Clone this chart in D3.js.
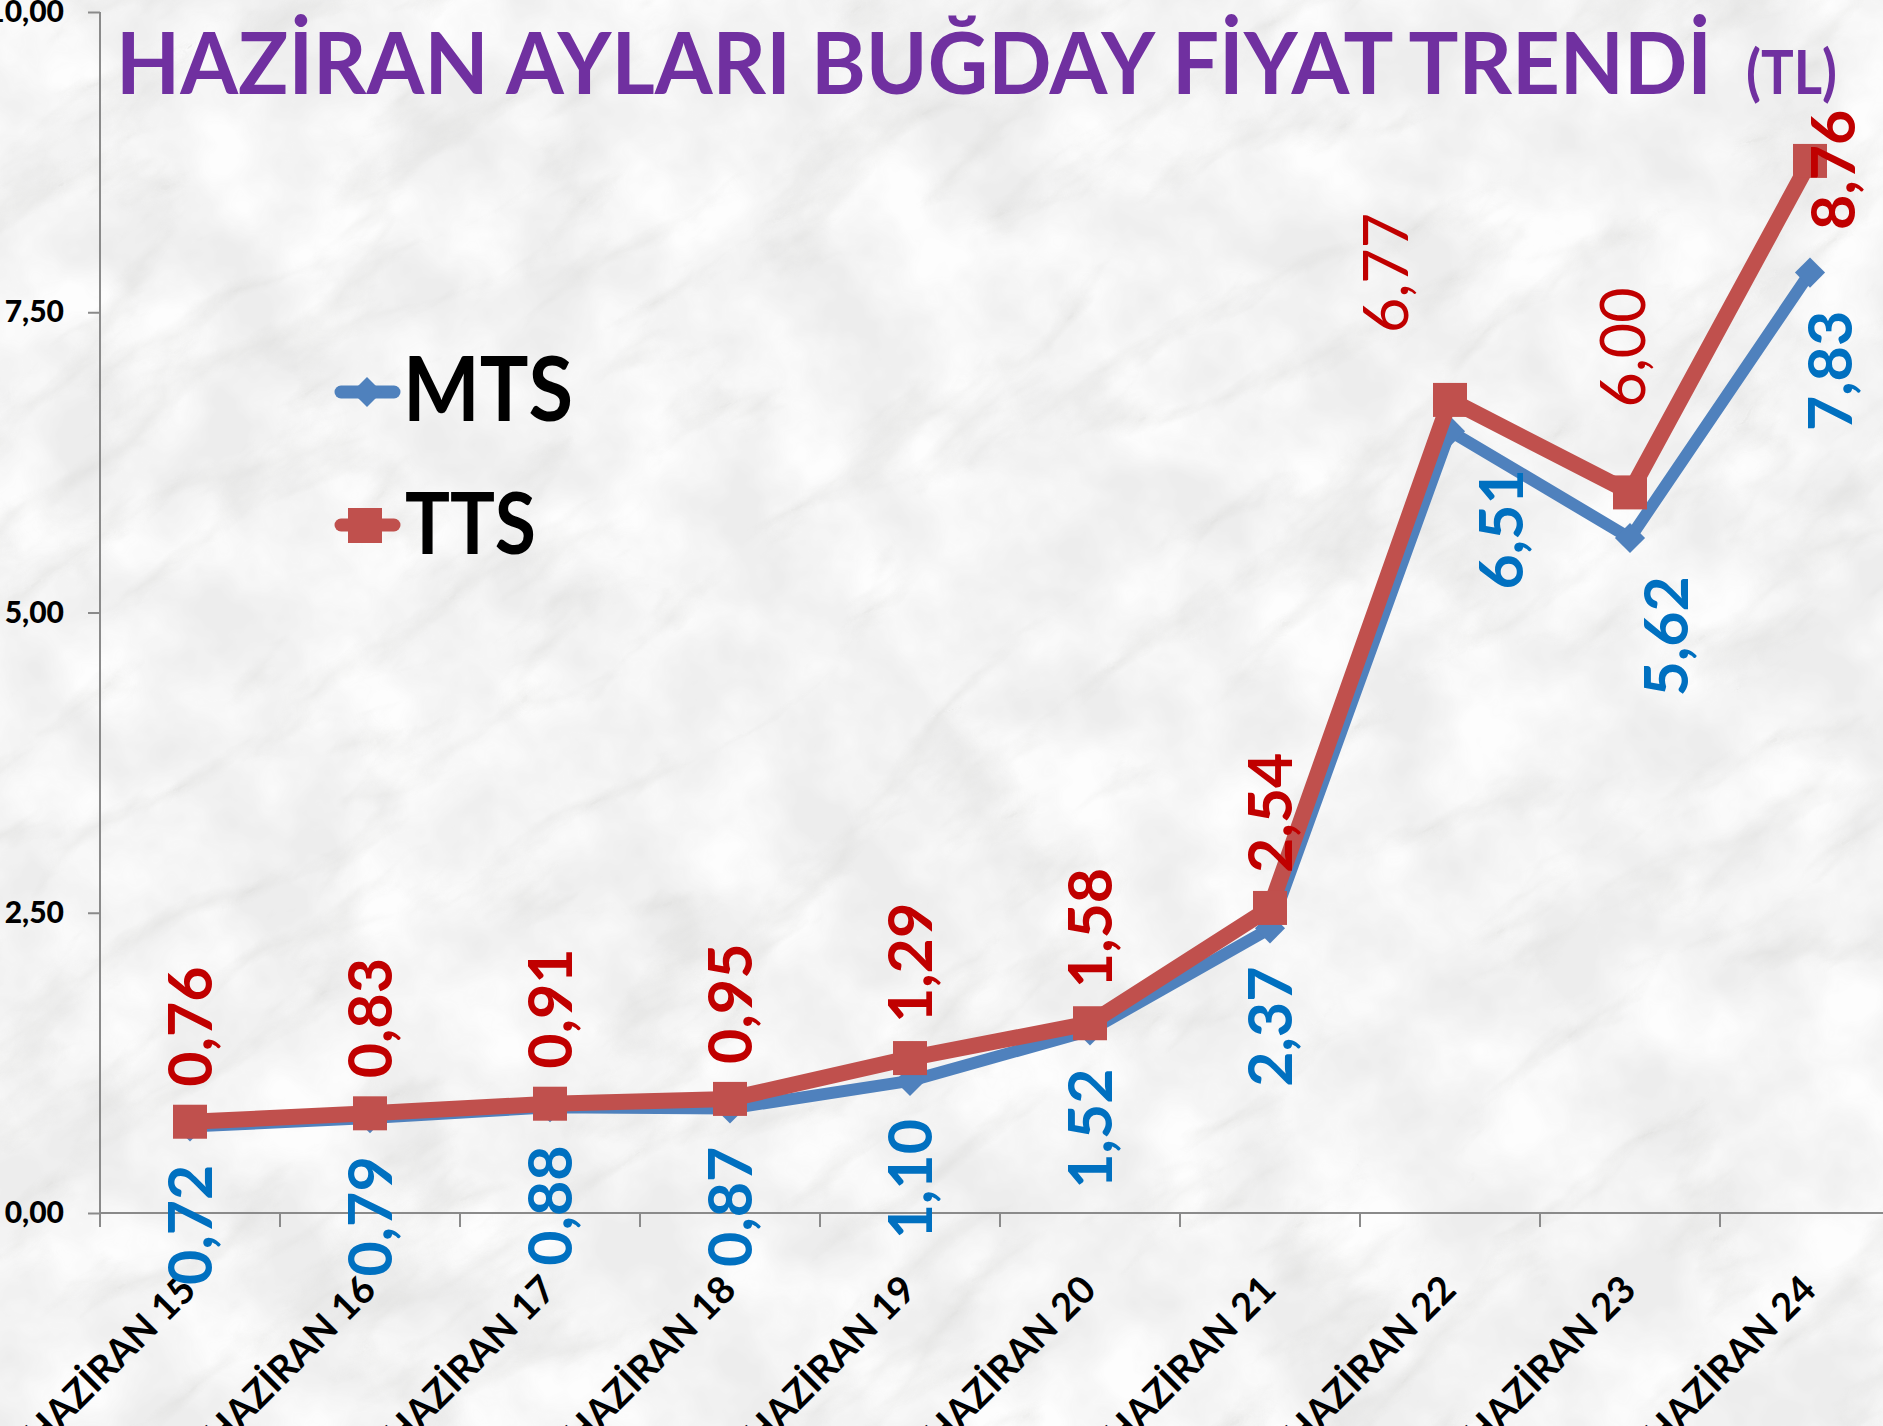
<!DOCTYPE html>
<html>
<head>
<meta charset="utf-8">
<script src="https://cdn.jsdelivr.net/npm/d3@7"></script>
<style>
  body { margin: 0; background: #f0f0f0; }
  svg { display: block; font-family: Lato, "Open Sans", sans-serif; }
</style>
</head>
<body>
<div id="chart"></div>
<script>
// chart data
const categories = ["HAZİRAN 15", "HAZİRAN 16", "HAZİRAN 17", "HAZİRAN 18", "HAZİRAN 19",
  "HAZİRAN 20", "HAZİRAN 21", "HAZİRAN 22", "HAZİRAN 23", "HAZİRAN 24"];
const mts = [0.72, 0.79, 0.88, 0.87, 1.10, 1.52, 2.37, 6.51, 5.62, 7.83];
const tts = [0.76, 0.83, 0.91, 0.95, 1.29, 1.58, 2.54, 6.77, 6.00, 8.76];
const yTicks = [0, 2.5, 5, 7.5, 10];
const seriesNames = ["MTS", "TTS"];
const titleText = "HAZİRAN AYLARI BUĞDAY FİYAT TRENDİ";
const titleUnit = "(TL)";

// manual label moves (pixels), like the hand-dragged labels in the original
const labelNudge = {
  TTS: { 7: { dx: -64, gap: 67, weight: 400 }, 8: { dx: -7, gap: 85, weight: 400 }, 9: { dx: 23, gap: -69 } },
  MTS: { 7: { dx: 51 }, 8: { dx: 36 }, 9: { dx: 20 } }
};

const W = 1883, H = 1426;
const fmt = d => d.toFixed(2).replace(".", ",");

const svg = d3.select("#chart").append("svg")
  .attr("width", W)
  .attr("height", H);

// marble-ish background
const defs = svg.append("defs");
const veins = defs.append("filter").attr("id", "veins")
  .attr("x", 0).attr("y", 0).attr("width", "100%").attr("height", "100%");
veins.append("feTurbulence")
  .attr("type", "turbulence")
  .attr("baseFrequency", "0.003 0.008")
  .attr("numOctaves", 5)
  .attr("seed", 7);
veins.append("feColorMatrix")
  .attr("type", "matrix")
  .attr("values", "0 0 0 0 0.6  0 0 0 0 0.6  0 0 0 0 0.58  -2.6 0 0 0 0.6");

const mottle = defs.append("filter").attr("id", "mottle")
  .attr("x", 0).attr("y", 0).attr("width", "100%").attr("height", "100%");
mottle.append("feTurbulence")
  .attr("type", "fractalNoise")
  .attr("baseFrequency", "0.01")
  .attr("numOctaves", 4)
  .attr("seed", 3);
mottle.append("feColorMatrix")
  .attr("type", "matrix")
  .attr("values", "0 0 0 0 1  0 0 0 0 1  0 0 0 0 1  2 0 0 0 -0.55");

svg.append("rect").attr("width", W).attr("height", H).attr("fill", "#ededed");
svg.append("g").attr("transform", `translate(${W / 2},${H / 2}) rotate(-35)`)
  .append("rect")
  .attr("x", -1400).attr("y", -1400).attr("width", 2800).attr("height", 2800)
  .attr("filter", "url(#mottle)").attr("opacity", 0.9);
svg.append("g").attr("transform", `translate(${W / 2},${H / 2}) rotate(-35)`)
  .append("rect")
  .attr("x", -1400).attr("y", -1400).attr("width", 2800).attr("height", 2800)
  .attr("filter", "url(#veins)").attr("opacity", 0.45);

// scales
const x = d3.scaleBand().domain(categories).range([100, 1900]).padding(0);
const y = d3.scaleLinear().domain([0, 10]).range([1213, 12]);
const cx = d => x(d) + x.bandwidth() / 2;

// y axis
const yAxis = svg.append("g")
  .attr("transform", "translate(100,0)")
  .call(d3.axisLeft(y).tickValues(yTicks).tickFormat(fmt).tickSize(12).tickPadding(24).tickSizeOuter(0));
yAxis.select(".domain").attr("stroke", "#8a8a8a").attr("stroke-width", 2)
  .attr("d", `M0,${y(10)}V${y(0) + 14}`);
yAxis.selectAll(".tick line").attr("stroke", "#8a8a8a").attr("stroke-width", 2);
yAxis.selectAll(".tick text")
  .attr("fill", "#000")
  .style("font-size", "30px")
  .style("font-weight", 900)
  .style("font-family", "Lato, sans-serif");

// x axis: line + boundary ticks
const xAxis = svg.append("g");
xAxis.append("line")
  .attr("x1", 100).attr("x2", 1900)
  .attr("y1", y(0)).attr("y2", y(0))
  .attr("stroke", "#8a8a8a").attr("stroke-width", 2);
xAxis.selectAll("line.tk")
  .data(categories.slice(1))
  .join("line")
  .attr("class", "tk")
  .attr("x1", d => x(d)).attr("x2", d => x(d))
  .attr("y1", y(0)).attr("y2", y(0) + 14)
  .attr("stroke", "#8a8a8a").attr("stroke-width", 2);
xAxis.selectAll("text")
  .data(categories)
  .join("text")
  .attr("transform", d => `translate(${cx(d) + 8},${y(0) + 79}) rotate(-45)`)
  .attr("text-anchor", "end")
  .attr("fill", "#000")
  .style("font-size", "38px")
  .style("font-weight", 700)
  .text(d => d);

// lines
const line = d3.line()
  .x((d, i) => cx(categories[i]))
  .y(d => y(d));

const plot = svg.append("g");

plot.append("path")
  .datum(mts)
  .attr("d", line)
  .attr("fill", "none")
  .attr("stroke", "#4F81BD")
  .attr("stroke-width", 12)
  .attr("stroke-linejoin", "round");
plot.selectAll("path.dia")
  .data(mts)
  .join("path")
  .attr("class", "dia")
  .attr("d", d3.symbol().type(d3.symbolDiamond2).size(578))
  .attr("transform", (d, i) => `translate(${cx(categories[i])},${y(d)})`)
  .attr("fill", "#4F81BD");

plot.append("path")
  .datum(tts)
  .attr("d", line)
  .attr("fill", "none")
  .attr("stroke", "#C0504D")
  .attr("stroke-width", 16)
  .attr("stroke-linejoin", "round");
plot.selectAll("rect.sq")
  .data(tts)
  .join("rect")
  .attr("class", "sq")
  .attr("x", (d, i) => cx(categories[i]) - 17)
  .attr("y", d => y(d) - 17)
  .attr("width", 34)
  .attr("height", 34)
  .attr("fill", "#C0504D");

// data labels (rotated, reading upward)
function labels(values, name, color, above) {
  const nudges = labelNudge[name];
  svg.append("g").selectAll("text")
    .data(values)
    .join("text")
    .attr("transform", (d, i) => {
      const n = nudges[i] || {};
      const gap = n.gap !== undefined ? n.gap : (above ? 35 : 38);
      const ty = above ? y(d) - gap : y(d) + gap;
      return `translate(${cx(categories[i]) + (n.dx || 0)},${ty}) rotate(-90)`;
    })
    .attr("text-anchor", above ? "start" : "end")
    .attr("dy", "0.36em")
    .attr("fill", color)
    .style("font-size", "61px")
    .style("font-weight", (d, i) => (nudges[i] && nudges[i].weight) || 700)
    .text(fmt);
}
labels(mts, "MTS", "#0070C0", false);
labels(tts, "TTS", "#C00000", true);

// title
svg.append("text")
  .attr("x", 116).attr("y", 94)
  .attr("textLength", 1596)
  .attr("lengthAdjust", "spacingAndGlyphs")
  .attr("fill", "#7030A0")
  .style("font-size", "87px")
  .style("font-weight", 700)
  .text(titleText);
svg.append("text")
  .attr("x", 1746).attr("y", 94)
  .attr("textLength", 91)
  .attr("lengthAdjust", "spacingAndGlyphs")
  .attr("fill", "#7030A0")
  .style("font-size", "61px")
  .style("font-weight", 700)
  .text(titleUnit);

// legend
const legend = svg.append("g");
const legY = [392, 525];
const legColor = ["#4F81BD", "#C0504D"];
const legWidth = [170, 131];
legend.selectAll("line")
  .data(seriesNames)
  .join("line")
  .attr("x1", 341).attr("x2", 394)
  .attr("y1", (d, i) => legY[i]).attr("y2", (d, i) => legY[i])
  .attr("stroke", (d, i) => legColor[i])
  .attr("stroke-width", 13)
  .attr("stroke-linecap", "round");
legend.append("path")
  .attr("d", d3.symbol().type(d3.symbolDiamond2).size(578))
  .attr("transform", `translate(367,${legY[0]})`)
  .attr("fill", legColor[0]);
legend.append("rect")
  .attr("x", 348).attr("y", legY[1] - 17)
  .attr("width", 34).attr("height", 35)
  .attr("fill", legColor[1]);
legend.selectAll("text")
  .data(seriesNames)
  .join("text")
  .attr("x", (d, i) => i === 0 ? 403 : 405)
  .attr("y", (d, i) => legY[i] + 29)
  .attr("textLength", (d, i) => legWidth[i])
  .attr("lengthAdjust", "spacingAndGlyphs")
  .attr("fill", "#000")
  .style("font-size", (d, i) => i === 0 ? "89px" : "86px")
  .style("font-weight", 700)
  .text(d => d);
</script>
</body>
</html>
